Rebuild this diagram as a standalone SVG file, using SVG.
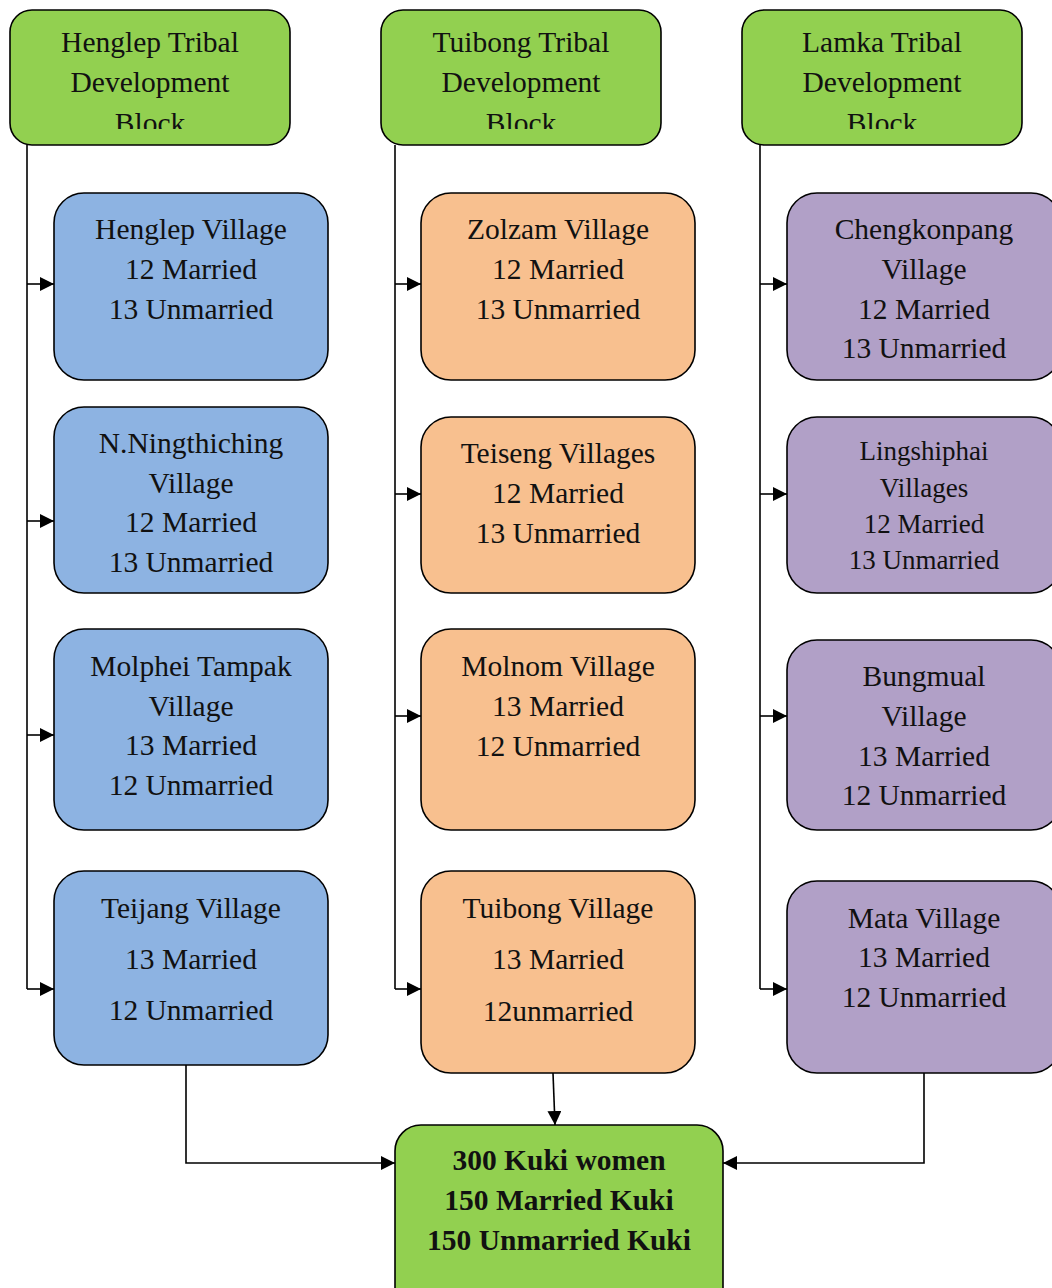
<svg xmlns="http://www.w3.org/2000/svg" width="1052" height="1288" viewBox="0 0 1052 1288">
<style>
.box{stroke:#000;stroke-width:1.6}
.g{fill:#92D050}.b{fill:#8DB3E2}.o{fill:#F8C08F}.p{fill:#B1A0C7}
text{font-family:"Liberation Serif","Times New Roman",serif;font-size:29.5px;fill:#111;text-anchor:middle}
.sm{font-size:27px}
.bold{font-weight:bold}
.c{fill:none;stroke:#000;stroke-width:1.6}
</style>
<defs>
<marker id="a" markerWidth="14" markerHeight="14" refX="14" refY="7" orient="auto" markerUnits="userSpaceOnUse"><path d="M0,0 L14,7 L0,14 z" fill="#000"/></marker>
<clipPath id="hc"><rect x="0" y="0" width="1052" height="129"/></clipPath>
</defs>
<g id="connectors">
<path class="c" d="M27,145 V989"/>
<path class="c" d="M27,284 H54" marker-end="url(#a)"/>
<path class="c" d="M27,521 H54" marker-end="url(#a)"/>
<path class="c" d="M27,735 H54" marker-end="url(#a)"/>
<path class="c" d="M27,989 H54" marker-end="url(#a)"/>
<path class="c" d="M395,145 V989"/>
<path class="c" d="M395,284 H421" marker-end="url(#a)"/>
<path class="c" d="M395,494 H421" marker-end="url(#a)"/>
<path class="c" d="M395,716 H421" marker-end="url(#a)"/>
<path class="c" d="M395,989 H421" marker-end="url(#a)"/>
<path class="c" d="M760,145 V989"/>
<path class="c" d="M760,284 H787" marker-end="url(#a)"/>
<path class="c" d="M760,494 H787" marker-end="url(#a)"/>
<path class="c" d="M760,716 H787" marker-end="url(#a)"/>
<path class="c" d="M760,989 H787" marker-end="url(#a)"/>
<path class="c" d="M186,1065 V1163 H395" marker-end="url(#a)"/>
<path class="c" d="M553,1073 L555,1125" marker-end="url(#a)"/>
<path class="c" d="M924,1073 V1163 H723" marker-end="url(#a)"/>
</g>
<g id="h1"><rect class="box g" x="10" y="10" width="280" height="135" rx="22"/>
<g clip-path="url(#hc)"><text x="150" y="52">Henglep Tribal</text><text x="150" y="92">Development</text><text x="150" y="133">Block</text></g></g>
<g id="h2"><rect class="box g" x="381" y="10" width="280" height="135" rx="22"/>
<g clip-path="url(#hc)"><text x="521" y="52">Tuibong Tribal</text><text x="521" y="92">Development</text><text x="521" y="133">Block</text></g></g>
<g id="h3"><rect class="box g" x="742" y="10" width="280" height="135" rx="22"/>
<g clip-path="url(#hc)"><text x="882" y="52">Lamka Tribal</text><text x="882" y="92">Development</text><text x="882" y="133">Block</text></g></g>

<g id="v11"><rect class="box b" x="54" y="193" width="274" height="187" rx="30"/>
<text x="191" y="239">Henglep Village</text><text x="191" y="279">12 Married</text><text x="191" y="319">13 Unmarried</text></g>
<g id="v12"><rect class="box b" x="54" y="407" width="274" height="186" rx="30"/>
<text x="191" y="453">N.Ningthiching</text><text x="191" y="493">Village</text><text x="191" y="532">12 Married</text><text x="191" y="572">13 Unmarried</text></g>
<g id="v13"><rect class="box b" x="54" y="629" width="274" height="201" rx="30"/>
<text x="191" y="676">Molphei Tampak</text><text x="191" y="716">Village</text><text x="191" y="755">13 Married</text><text x="191" y="795">12 Unmarried</text></g>
<g id="v14"><rect class="box b" x="54" y="871" width="274" height="194" rx="30"/>
<text x="191" y="918">Teijang Village</text><text x="191" y="969">13 Married</text><text x="191" y="1020">12 Unmarried</text></g>

<g id="v21"><rect class="box o" x="421" y="193" width="274" height="187" rx="30"/>
<text x="558" y="239">Zolzam Village</text><text x="558" y="279">12 Married</text><text x="558" y="319">13 Unmarried</text></g>
<g id="v22"><rect class="box o" x="421" y="417" width="274" height="176" rx="30"/>
<text x="558" y="463">Teiseng Villages</text><text x="558" y="503">12 Married</text><text x="558" y="543">13 Unmarried</text></g>
<g id="v23"><rect class="box o" x="421" y="629" width="274" height="201" rx="30"/>
<text x="558" y="676">Molnom Village</text><text x="558" y="716">13 Married</text><text x="558" y="756">12 Unmarried</text></g>
<g id="v24"><rect class="box o" x="421" y="871" width="274" height="202" rx="30"/>
<text x="558" y="918">Tuibong Village</text><text x="558" y="969">13 Married</text><text x="558" y="1021">12unmarried</text></g>

<g id="v31"><rect class="box p" x="787" y="193" width="274" height="187" rx="30"/>
<text x="924" y="239">Chengkonpang</text><text x="924" y="279">Village</text><text x="924" y="319">12 Married</text><text x="924" y="358">13 Unmarried</text></g>
<g id="v32"><rect class="box p" x="787" y="417" width="274" height="176" rx="30"/>
<text class="sm" x="924" y="460">Lingshiphai</text><text class="sm" x="924" y="497">Villages</text><text class="sm" x="924" y="533">12 Married</text><text class="sm" x="924" y="569">13 Unmarried</text></g>
<g id="v33"><rect class="box p" x="787" y="640" width="274" height="190" rx="30"/>
<text x="924" y="686">Bungmual</text><text x="924" y="726">Village</text><text x="924" y="766">13 Married</text><text x="924" y="805">12 Unmarried</text></g>
<g id="v34"><rect class="box p" x="787" y="881" width="274" height="192" rx="30"/>
<text x="924" y="928">Mata Village</text><text x="924" y="967">13 Married</text><text x="924" y="1007">12 Unmarried</text></g>

<g id="total"><rect class="box g" x="395" y="1125" width="328" height="190" rx="26"/>
<text class="bold" x="559" y="1170">300 Kuki women</text><text class="bold" x="559" y="1210">150 Married Kuki</text><text class="bold" x="559" y="1250">150 Unmarried Kuki</text></g>
</svg>
